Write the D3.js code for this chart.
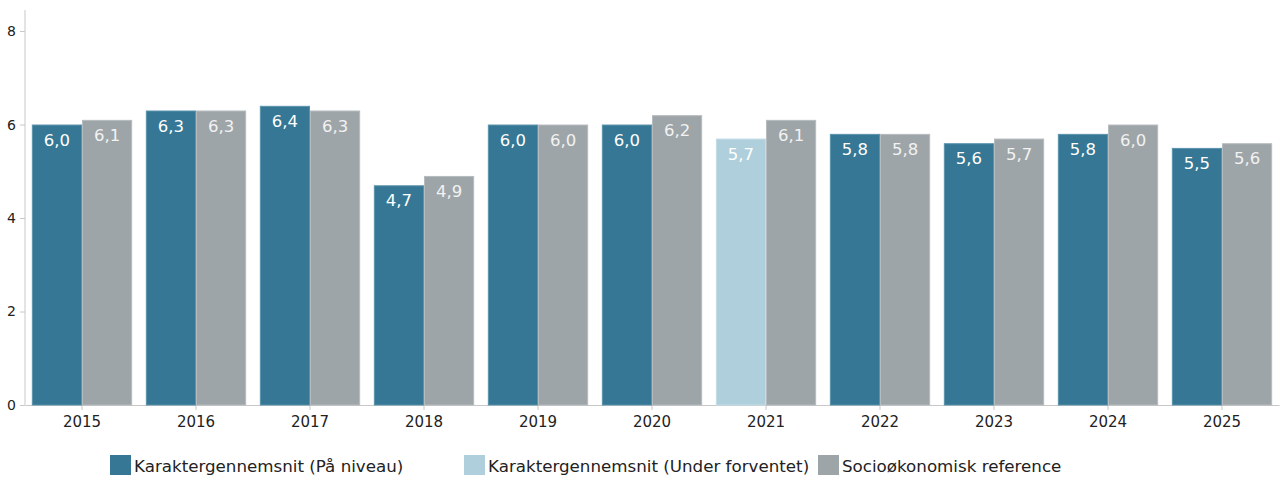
<!DOCTYPE html>
<html>
<head>
<meta charset="utf-8">
<script src="https://cdn.jsdelivr.net/npm/d3@7"></script>
<style>
  html, body { margin: 0; padding: 0; background: #fff; }
  svg { display: block; font-family: "DejaVu Sans", Verdana, sans-serif; }
</style>
</head>
<body>
<svg id="chart" width="1282" height="477"></svg>
<script>
// Years on the x axis
const years = ["2015", "2016", "2017", "2018", "2019", "2020", "2021", "2022", "2023", "2024", "2025"];
// Grade average per year
const gradeAverage = [6.0, 6.3, 6.4, 4.7, 6.0, 6.0, 5.7, 5.8, 5.6, 5.8, 5.5];
// Status of each grade average: "level" = på niveau, "below" = under forventet
const gradeStatus = ["level", "level", "level", "level", "level", "level", "below", "level", "level", "level", "level"];
// Socio-economic reference per year
const socioReference = [6.1, 6.3, 6.3, 4.9, 6.0, 6.2, 6.1, 5.8, 5.7, 6.0, 5.6];
// Y axis ticks
const yTicks = [0, 2, 4, 6, 8];
// Legend entries
const legendLabels = ["Karaktergennemsnit (På niveau)", "Karaktergennemsnit (Under forventet)", "Socioøkonomisk reference"];

const colors = { level: "#357794", below: "#aecfdb", ref: "#9ea5a8" };
const strokes = { level: "#5a93ab", below: "#c4dde6", ref: "#b6bbbe" };
const FONT = "'DejaVu Sans', Verdana, sans-serif";

const svg = d3.select("#chart");
const margin = { left: 25, right: 3, top: 10, bottom: 72 };
const W = 1282, H = 477;
const x0 = margin.left, x1 = W - margin.right;
const yBase = H - margin.bottom;

const x = d3.scaleBand().domain(years).range([x0, x1]).paddingInner(0.12).paddingOuter(0.06);
const xs = d3.scaleBand().domain(["grade", "ref"]).range([0, x.bandwidth()]);
const y = d3.scaleLinear().domain([0, 8.45]).range([yBase, margin.top]);

const fmt = v => d3.format(".1f")(v).replace(".", ",");

// Axes
const yAxis = svg.append("g").attr("transform", `translate(${x0},0)`)
  .call(d3.axisLeft(y).tickValues(yTicks).tickSize(5).tickPadding(4));
yAxis.select(".domain").attr("stroke", "#c8c8c8").attr("d", `M0,${yBase}V${margin.top}`);
yAxis.selectAll(".tick line").attr("stroke", "#c8c8c8");
yAxis.selectAll(".tick text").attr("font-size", 14).attr("fill", "#222").attr("font-family", FONT);

const xAxis = svg.append("g").attr("transform", `translate(0,${yBase})`)
  .call(d3.axisBottom(x).tickSize(5).tickPadding(6).tickSizeOuter(0));
xAxis.select(".domain").attr("stroke", "#c8c8c8");
xAxis.selectAll(".tick line").attr("stroke", "#c8c8c8");
xAxis.selectAll(".tick text").attr("font-size", 15).attr("fill", "#222").attr("font-family", FONT);

// Bars
const rows = years.map((yr, i) => ({ yr, grade: gradeAverage[i], status: gradeStatus[i], ref: socioReference[i] }));
const groups = svg.append("g").selectAll("g").data(rows).join("g")
  .attr("transform", d => `translate(${x(d.yr)},0)`);

const barData = d => [
  { key: "grade", v: d.grade, fill: colors[d.status], stroke: strokes[d.status] },
  { key: "ref", v: d.ref, fill: colors.ref, stroke: strokes.ref }
];

groups.selectAll("rect").data(barData).join("rect")
  .attr("x", b => xs(b.key) + 0.5)
  .attr("y", b => y(b.v) + 0.5)
  .attr("width", xs.bandwidth() - 1)
  .attr("height", b => yBase - y(b.v) - 0.5)
  .attr("fill", b => b.fill)
  .attr("stroke", b => b.stroke)
  .attr("stroke-width", 1);

groups.selectAll("text.val").data(barData).join("text")
  .attr("class", "val")
  .attr("x", b => xs(b.key) + xs.bandwidth() / 2)
  .attr("y", b => y(b.v) + 21)
  .attr("text-anchor", "middle")
  .attr("font-size", 16.5)
  .attr("fill", b => b.key === "ref" ? "#f2f2f2" : "#ffffff")
  .text(b => fmt(b.v));

// Legend
const legendX = [110, 464, 818];
const legendFill = [colors.level, colors.below, colors.ref];
const legend = svg.append("g").selectAll("g").data(legendLabels).join("g")
  .attr("transform", (d, i) => `translate(${legendX[i]},455)`);
legend.append("rect").attr("width", 21).attr("height", 20)
  .attr("fill", (d, i) => legendFill[i]);
legend.append("text").attr("x", 24).attr("y", 17)
  .attr("font-size", 16.7).attr("fill", "#222").text(d => d);
</script>
</body>
</html>
